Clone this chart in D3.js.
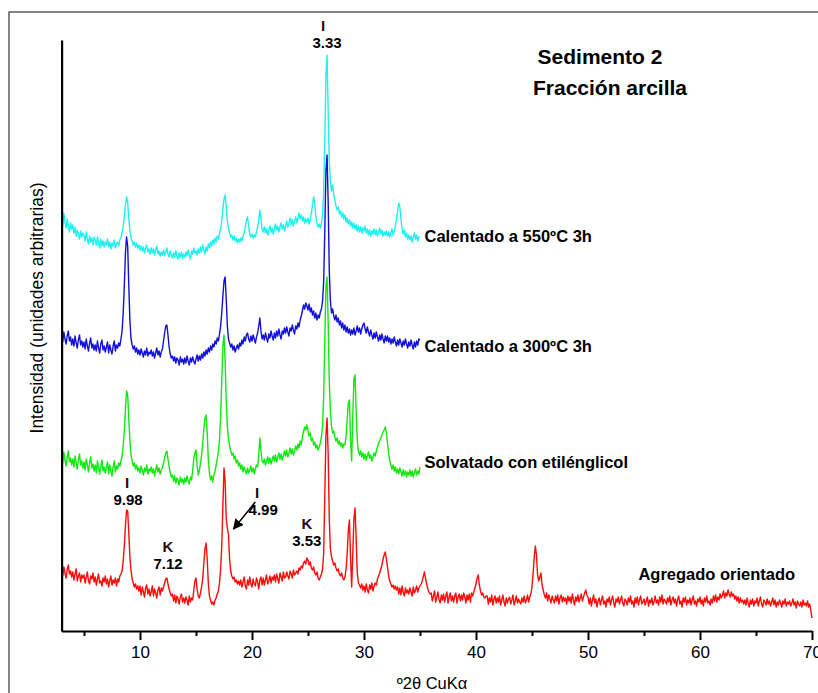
<!DOCTYPE html>
<html><head><meta charset="utf-8">
<script src="https://cdn.jsdelivr.net/npm/d3@7"></script>
<style>
body{margin:0;background:#fff}
svg{display:block}
text{font-family:"Liberation Sans",Arial,sans-serif;fill:#000}
</style>
</head><body>
<svg id="chart" width="818" height="693"></svg>
<script>
// 2θ grid of the recorded patterns
const thetaStart = 3, thetaStep = 0.1;

// Agregado orientado (3–70 °2θ)
const agregado = [
62,55,64,58,53,61,66,57,60,54,
59,51,57,62,50,55,58,49,56,53,
56,48,54,59,50,47,55,52,58,49,
54,46,52,57,48,50,45,53,49,55,
47,52,44,50,55,46,51,48,53,45,
52,49,55,57,60,70,85,105,121,120,
98,74,60,52,48,44,47,42,45,40,
45,36,44,39,34,43,46,37,42,35,
39,45,35,42,38,33,41,44,36,43,
40,44,48,52,53,47,42,38,35,37,
30,36,28,35,32,27,34,37,29,33,
28,34,31,26,35,29,33,31,40,50,
53,42,35,33,38,44,52,68,82,88,
72,48,35,31,27,29,26,31,33,37,
40,48,62,85,125,163,150,112,103,96,
72,60,55,52,54,49,51,47,50,46,
51,44,49,54,45,42,51,46,54,47,
44,52,47,45,53,49,42,51,54,46,
53,46,51,56,47,50,55,48,54,51,
56,49,57,52,48,58,54,50,59,53,
54,59,55,52,60,57,53,61,56,58,
60,57,63,61,65,63,68,70,67,73,
71,66,69,63,61,64,58,56,59,53,
51,54,57,62,78,135,195,213,178,112,
82,74,70,66,68,63,60,62,57,55,
58,53,51,54,62,78,101,111,72,44,
78,112,123,92,58,48,46,43,47,41,
45,39,47,41,38,46,42,48,40,45,
48,46,52,55,58,62,66,72,76,79,
72,64,55,50,47,44,46,42,45,41,
44,37,43,36,45,39,35,43,38,41,
37,43,39,35,44,38,41,45,39,43,
45,47,50,55,59,52,47,42,39,37,
38,30,35,40,29,34,39,31,28,36,
31,37,29,35,39,28,34,38,30,35,
29,35,38,28,34,37,30,36,31,38,
34,28,36,31,37,29,38,35,39,43,
47,53,56,46,40,36,38,34,33,35,
35,27,33,29,36,26,32,35,28,33,
29,35,26,31,36,29,25,33,28,32,
34,27,31,36,26,30,35,28,32,29,
27,33,29,35,28,31,36,29,34,37,
44,58,74,85,76,56,50,54,58,46,
41,36,33,38,30,36,32,28,35,31,
28,35,30,36,27,33,36,29,34,30,
33,27,35,30,34,28,37,31,26,34,
30,36,29,33,37,30,34,38,41,36,
34,27,33,25,31,36,28,32,24,30,
33,26,31,35,27,30,24,32,29,34,
26,31,35,28,24,32,29,34,27,31,
35,28,25,32,30,26,33,29,35,27,
30,24,33,28,34,26,31,35,27,29,
32,26,30,34,25,31,28,33,26,30,
35,28,31,26,34,29,36,27,32,30,
27,33,29,35,26,31,34,28,32,25,
31,35,27,30,24,33,29,34,26,31,
28,33,26,31,35,27,30,25,32,29,
34,27,31,25,33,29,35,28,30,26,
32,28,35,30,36,29,34,31,37,33,
36,40,33,38,35,41,37,34,39,35,
37,32,35,30,34,28,33,29,31,27,
31,26,33,28,24,31,27,32,25,30,
28,33,25,30,34,27,24,31,29,26,
32,27,30,25,29,33,26,31,24,29,
26,31,28,24,30,27,32,25,29,27,
30,25,28,32,26,29,23,30,27,25,
29,24,31,26,28,25,30,24,27,20,
13];

// Solvatado con etilénglicol (3–35 °2θ)
const solvatado = [
176,168,179,171,165,174,180,169,173,166,
172,164,175,168,162,171,177,166,170,163,
169,161,172,166,159,168,174,163,167,160,
166,158,170,163,157,165,171,160,164,158,
163,169,157,166,160,155,164,170,159,165,
162,168,165,170,175,185,200,222,240,236,
212,190,176,170,165,168,162,166,160,163,
158,165,161,156,163,159,166,157,162,160,
164,158,162,155,161,166,159,163,157,161,
163,168,173,178,180,172,164,158,154,156,
150,155,148,153,151,146,154,149,152,147,
153,149,155,150,147,154,151,160,172,178,
181,165,156,160,168,176,188,202,213,216,
198,172,158,151,155,149,156,160,166,172,
180,192,215,250,285,296,270,230,205,192,
185,180,176,178,172,175,168,171,165,168,
162,166,159,164,160,157,163,158,161,165,
159,163,157,162,166,164,175,193,180,170,
168,172,166,170,174,168,173,167,171,175,
170,176,169,174,178,172,177,171,175,180,
175,181,174,178,183,177,182,176,180,185,
181,187,183,190,186,194,199,204,201,206,
200,195,198,190,193,186,189,183,186,181,
184,188,194,205,235,290,345,354,310,250,
220,205,198,200,194,190,193,187,190,185,
188,183,187,186,195,212,228,231,190,170,
215,252,256,220,190,180,176,180,174,178,
172,177,171,175,179,173,176,170,174,178,
175,180,184,188,190,193,196,199,201,204,
198,188,178,170,166,162,166,160,164,158,
162,157,163,159,155,161,156,160,154,159,
156,161,155,160,154,158,162,156,160,157,
164];

// Calentado a 300ºC 3h (3–35 °2θ)
const calentado300 = [
296,289,299,292,287,295,300,290,294,286,
292,285,295,288,283,291,296,286,290,284,
289,282,292,285,280,288,293,283,287,281,
286,280,290,283,278,287,291,281,285,279,
284,289,278,286,281,277,285,290,280,286,
283,288,285,292,300,318,345,378,394,385,
345,310,292,286,282,285,279,283,277,281,
276,282,278,274,280,276,283,275,279,277,
281,275,279,273,278,283,276,280,274,279,
282,290,298,305,306,296,284,277,273,275,
270,274,268,273,271,266,274,269,272,267,
273,268,275,270,266,273,269,274,270,267,
272,276,270,275,271,277,273,279,275,281,
277,283,279,285,281,287,284,290,287,293,
290,297,305,318,335,350,354,332,305,292,
288,284,287,281,285,279,283,286,282,288,
285,291,287,294,290,296,298,292,289,295,
290,296,292,288,294,298,305,313,300,292,
296,291,298,293,289,297,293,300,295,291,
298,293,300,295,302,296,292,300,297,303,
298,304,299,295,303,300,306,301,297,305,
302,308,304,311,315,320,326,322,328,325,
321,327,319,323,316,320,313,318,311,316,
313,319,322,330,350,400,460,476,430,360,
330,318,322,315,311,316,309,313,306,310,
303,308,301,306,299,304,298,302,296,301,
297,303,296,300,305,299,303,297,302,306,
308,302,298,304,299,295,301,296,292,298,
293,299,294,290,296,291,297,292,288,295,
290,295,289,293,287,292,288,294,289,285,
291,286,292,288,284,290,286,292,287,283,
289,285,291,286,282,289,284,290,286,292,
291];

// Calentado a 550ºC 3h (3–35 °2θ)
const calentado550 = [
414,406,418,409,403,412,405,399,408,402,
406,398,404,395,401,397,392,400,394,398,
396,390,399,392,387,395,389,393,386,394,
391,386,394,388,383,392,385,390,384,389,
386,392,384,389,382,388,385,391,383,387,
389,385,391,394,398,405,414,427,434,429,
412,400,393,390,386,389,384,388,383,386,
381,385,380,384,378,383,386,379,382,377,
383,378,382,376,381,385,377,380,375,379,
376,381,375,379,383,377,374,380,376,373,
378,374,380,375,372,378,374,379,373,377,
374,379,375,381,376,372,380,377,383,378,
380,376,382,378,384,379,386,381,377,384,
380,387,383,389,385,391,387,393,389,395,
392,398,402,410,422,432,436,425,410,403,
398,394,396,391,395,390,393,388,392,389,
393,390,395,398,404,411,414,405,397,394,
397,393,396,394,399,404,411,421,412,402,
399,404,398,402,396,401,405,399,403,397,
402,407,401,405,399,404,408,402,406,400,
405,410,404,408,413,406,411,405,409,414,
408,413,418,412,416,410,414,408,412,409,
413,407,411,418,426,434,428,415,408,404,
407,403,408,416,440,490,555,576,520,470,
450,440,446,436,431,425,421,424,417,420,
414,418,412,416,409,413,407,411,405,409,
403,408,402,406,400,405,399,404,398,403,
400,405,398,402,396,401,395,400,397,402,
396,401,395,399,403,397,401,395,399,396,
400,395,399,394,398,402,396,400,405,412,
420,428,424,412,402,397,401,394,398,392,
396,391,395,389,394,398,392,396,390,394,
394];

const seriesNames  = ["Calentado a 550ºC 3h", "Calentado a 300ºC 3h", "Solvatado con etilénglicol", "Agregado orientado"];
const seriesColors = ["#1ef0f0", "#1010d8", "#10e810", "#ff0a0a"];
const seriesData   = [calentado550, calentado300, solvatado, agregado];
// label anchor (°2θ, intensity) for each series name
const seriesLabelTheta = [35.4, 35.4, 35.4, 54.5];
const seriesLabelValue = [395, 285, 169, 57];

const majorTicks = [10, 20, 30, 40, 50, 60, 70];
const minorTicks = [5, 15, 25, 35, 45, 55, 65];

// peak annotations: mineral, d-spacing (Å), °2θ, intensity of label baseline
const peakMineral = ["I", "K", "I", "K", "I"];
const peakD       = ["9.98", "7.12", "4.99", "3.53", "3.33"];
const peakTheta   = [8.93, 12.5, 21.0, 24.9, 26.7];
const peakLabelV  = [126, 62, 116, 85, 583];
const peakLetterDx= [-1, 0, -6, 0, -4];

const svg = d3.select("#chart");

const x = d3.scaleLinear().domain([3, 70]).range([61.6, 812]);
const y = d3.scaleLinear().domain([0, 591]).range([631, 40]);

// outer frame
svg.append("rect").attr("x", 9).attr("y", 12).attr("width", 830).attr("height", 700)
  .attr("fill", "none").attr("stroke", "#444").attr("stroke-width", 1.3);

// series
const line = d3.line().x((d, i) => x(thetaStart + i * thetaStep)).y(d => y(d));
seriesData.forEach((arr, k) => {
  svg.append("path").datum(arr).attr("d", line)
    .attr("fill", "none").attr("stroke", seriesColors[k])
    .attr("stroke-width", 1.4).attr("stroke-linejoin", "round");
});

// axes
const gx = svg.append("g").attr("transform", `translate(0,${y(0)})`)
  .call(d3.axisBottom(x).tickValues(majorTicks).tickSize(9).tickSizeOuter(0).tickFormat(d3.format("d")));
gx.select(".domain").attr("stroke-width", 2);
gx.selectAll(".tick line").attr("stroke-width", 2);
gx.selectAll(".tick text").attr("font-size", 17).attr("dy", "0.9em")
  .style("font-family", "'Liberation Sans', Arial, sans-serif");
const gm = svg.append("g").attr("transform", `translate(0,${y(0)})`)
  .call(d3.axisBottom(x).tickValues(minorTicks).tickSize(5).tickSizeOuter(0).tickFormat(""));
gm.select(".domain").remove();
gm.selectAll(".tick line").attr("stroke-width", 2);

const gy = svg.append("g").attr("transform", `translate(${x(3)},0)`)
  .call(d3.axisLeft(y).tickValues([]).tickSizeOuter(0));
gy.select(".domain").attr("stroke-width", 2.2);

// axis titles
svg.append("text").attr("x", 432).attr("y", 689).attr("text-anchor", "middle")
  .attr("font-size", 16.5).text("º2θ CuKα");
svg.append("text").attr("transform", "translate(43,308) rotate(-90)").attr("text-anchor", "middle")
  .attr("font-size", 17.5).text("Intensidad (unidades arbitrarias)");

// chart title
svg.append("text").attr("x", 600).attr("y", 64).attr("text-anchor", "middle")
  .attr("font-size", 21).attr("font-weight", "bold").text("Sedimento 2");
svg.append("text").attr("x", 610).attr("y", 95).attr("text-anchor", "middle")
  .attr("font-size", 21).attr("font-weight", "bold").text("Fracción arcilla");

// series names
seriesNames.forEach((n, k) => {
  svg.append("text").attr("x", x(seriesLabelTheta[k])).attr("y", y(seriesLabelValue[k]))
    .attr("dy", "0.36em").attr("font-size", 16.5).attr("font-weight", "bold").text(n);
});

// peak annotations
peakD.forEach((d, k) => {
  const px = x(peakTheta[k]), py = y(peakLabelV[k]);
  svg.append("text").attr("x", px).attr("y", py).attr("text-anchor", "middle")
    .attr("font-size", 15).attr("font-weight", "bold").text(d);
  svg.append("text").attr("x", px + peakLetterDx[k]).attr("y", py - 17).attr("text-anchor", "middle")
    .attr("font-size", 15).attr("font-weight", "bold").style("fill", "#2a0a10").text(peakMineral[k]);
});

// arrow to the 4.99 Å illite reflection
svg.append("defs").append("marker").attr("id", "ah").attr("viewBox", "0 0 10 10")
  .attr("refX", 9).attr("refY", 5).attr("markerWidth", 7).attr("markerHeight", 7)
  .attr("orient", "auto").append("path").attr("d", "M0,0L10,5L0,10z").attr("fill", "#000");
svg.append("line").attr("x1", x(20.3)).attr("y1", y(129)).attr("x2", x(18.35)).attr("y2", y(102))
  .attr("stroke", "#000").attr("stroke-width", 1.5).attr("marker-end", "url(#ah)");
</script>
</body></html>
